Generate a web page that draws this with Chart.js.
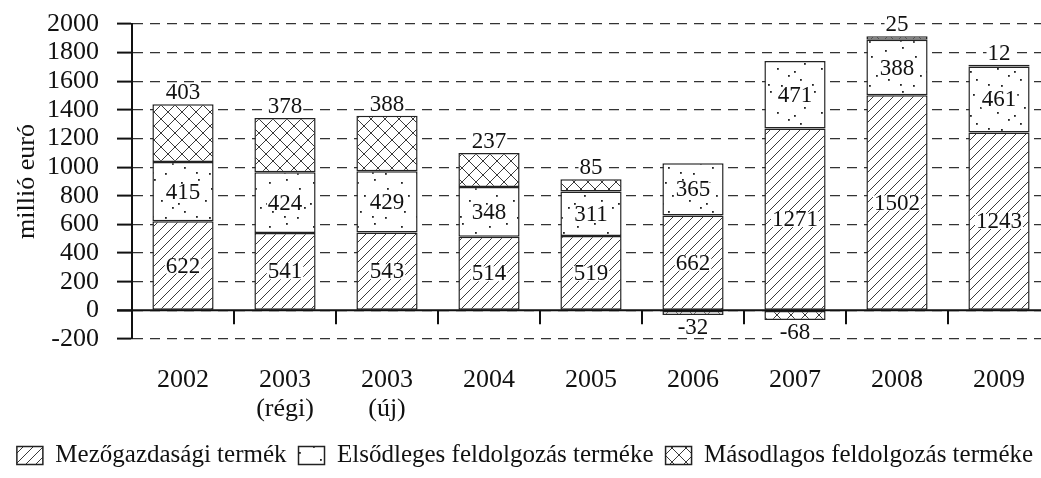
<!DOCTYPE html>
<html>
<head>
<meta charset="utf-8">
<script src="https://cdn.jsdelivr.net/npm/chart.js@4/dist/chart.umd.min.js"></script>
<style>
  html, body { margin: 0; padding: 0; background: #fff; overflow: hidden; }
  #wrap { width: 1050px; height: 478px; position: relative; }
</style>
</head>
<body>
<div id="wrap"><canvas id="chart"></canvas></div>
<script>
const years = ['2002', ['2003', '(régi)'], ['2003', '(új)'], '2004', '2005', '2006', '2007', '2008', '2009'];
const mezogazdasagi = [622, 541, 543, 514, 519, 662, 1271, 1502, 1243];
const elsodleges = [415, 424, 429, 348, 311, 365, 471, 388, 461];
const masodlagos = [403, 378, 388, 237, 85, -32, -68, 25, 12];
const seriesNames = ['Mezőgazdasági termék', 'Elsődleges feldolgozás terméke', 'Másodlagos feldolgozás terméke'];
const yTicks = [-200, 0, 200, 400, 600, 800, 1000, 1200, 1400, 1600, 1800, 2000];

const FONT = 'Liberation Serif, Times New Roman, serif';

function makePattern(size, draw){
  const c = document.createElement('canvas');
  c.width = size; c.height = size;
  const g = c.getContext('2d');
  g.fillStyle = '#fff';
  g.fillRect(0, 0, size, size);
  g.strokeStyle = '#222';
  g.fillStyle = '#222';
  g.lineWidth = 0.9;
  draw(g, size);
  return g.createPattern(c, 'repeat');
}

const ctx = document.getElementById('chart').getContext('2d');

// diagonal hatching
const hatch = makePattern(10, (g, s) => {
  g.beginPath();
  g.moveTo(0, s); g.lineTo(s, 0);
  g.moveTo(-2, 2); g.lineTo(2, -2);
  g.moveTo(s - 2, s + 2); g.lineTo(s + 2, s - 2);
  g.stroke();
});
// sparse dots
const dots = makePattern(44, (g) => {
  const pts = [[5,6],[22,3],[35,12],[12,19],[29,24],[40,31],[8,35],[20,40],[33,41],[2,27]];
  pts.forEach(p => g.fillRect(p[0], p[1], 1.8, 1.8));
});
// cross hatching
const cross = makePattern(14, (g, s) => {
  g.beginPath();
  g.moveTo(0, s); g.lineTo(s, 0);
  g.moveTo(0, 0); g.lineTo(s, s);
  g.stroke();
});

const labelPlugin = {
  id: 'labels',
  afterDatasetsDraw(chart){
    const c = chart.ctx;
    const yScale = chart.scales.y;
    const xScale = chart.scales.x;
    const area = chart.chartArea;
    const zero = yScale.getPixelForValue(0);
    c.save();
    // zero line
    c.strokeStyle = '#111';
    c.lineWidth = 2;
    c.beginPath();
    c.moveTo(area.left - 15, zero);
    c.lineTo(area.right, zero);
    c.stroke();
    // category boundary ticks
    for (let i = 1; i < years.length; i++){
      const x = (xScale.getPixelForValue(i - 1) + xScale.getPixelForValue(i)) / 2;
      c.beginPath();
      c.moveTo(x, zero);
      c.lineTo(x, zero + 14);
      c.stroke();
    }
    c.font = '23px ' + FONT;
    c.fillStyle = '#111';
    c.textAlign = 'center';
    chart.data.datasets.forEach((ds, di) => {
      const meta = chart.getDatasetMeta(di);
      meta.data.forEach((bar, i) => {
        const {x, y, base} = bar.getProps(['x', 'y', 'base'], true);
        const v = ds.data[i];
        const txt = String(v);
        const w = c.measureText(txt).width;
        let cy;
        if (di < 2){
          cy = (y + base) / 2;
        } else if (v >= 0){
          cy = Math.min(y, base) - 12;
        } else {
          cy = Math.max(y, base) + 12;
        }
        c.fillStyle = '#fff';
        c.fillRect(x - w / 2 - 1, cy - 7, w + 2, 15);
        c.fillStyle = '#111';
        c.textBaseline = 'middle';
        c.fillText(txt, x, cy + 1);
      });
    });
    c.restore();
  }
};

new Chart(ctx, {
  type: 'bar',
  data: {
    labels: years,
    datasets: [
      { label: seriesNames[0], data: mezogazdasagi, backgroundColor: hatch },
      { label: seriesNames[1], data: elsodleges, backgroundColor: dots },
      { label: seriesNames[2], data: masodlagos, backgroundColor: cross }
    ]
  },
  options: {
    responsive: true,
    maintainAspectRatio: false,
    animation: false,
    layout: { padding: { top: 24, left: 0, right: 0, bottom: 0 } },
    datasets: {
      bar: {
        borderColor: '#222',
        borderWidth: 1.5,
        borderSkipped: false,
        barPercentage: 0.6,
        categoryPercentage: 1
      }
    },
    plugins: {
      legend: {
        position: 'bottom',
        labels: {
          color: '#111',
          font: { family: FONT, size: 25 },
          boxWidth: 26,
          boxHeight: 18,
          padding: 12
        }
      },
      tooltip: { enabled: false }
    },
    scales: {
      x: {
        stacked: true,
        grid: { display: false },
        border: { display: false },
        ticks: {
          color: '#111',
          padding: 19,
          maxRotation: 0,
          autoSkip: false,
          font: { family: FONT, size: 26, lineHeight: 1.1 }
        },
        afterFit: s => { s.height = 92; }
      },
      y: {
        stacked: true,
        min: -200,
        max: 2000,
        afterBuildTicks: s => { s.ticks = yTicks.map(v => ({ value: v })); },
        grid: {
          color: '#333',
          lineWidth: 1.2,
          tickLength: 15,
          tickColor: '#111',
          tickWidth: 2
        },
        border: { display: true, color: '#111', width: 2, dash: [10, 7] },
        ticks: {
          color: '#111',
          padding: 18,
          autoSkip: false,
          callback: v => String(v),
          font: { family: FONT, size: 26 }
        },
        title: {
          display: true,
          text: 'millió euró',
          color: '#111',
          padding: { top: 12, bottom: 0 },
          font: { family: FONT, size: 26 }
        },
        afterFit: s => { s.width = 132; s.paddingTop = 0; s.paddingBottom = 0; }
      }
    }
  },
  plugins: [labelPlugin]
});
</script>
</body>
</html>
